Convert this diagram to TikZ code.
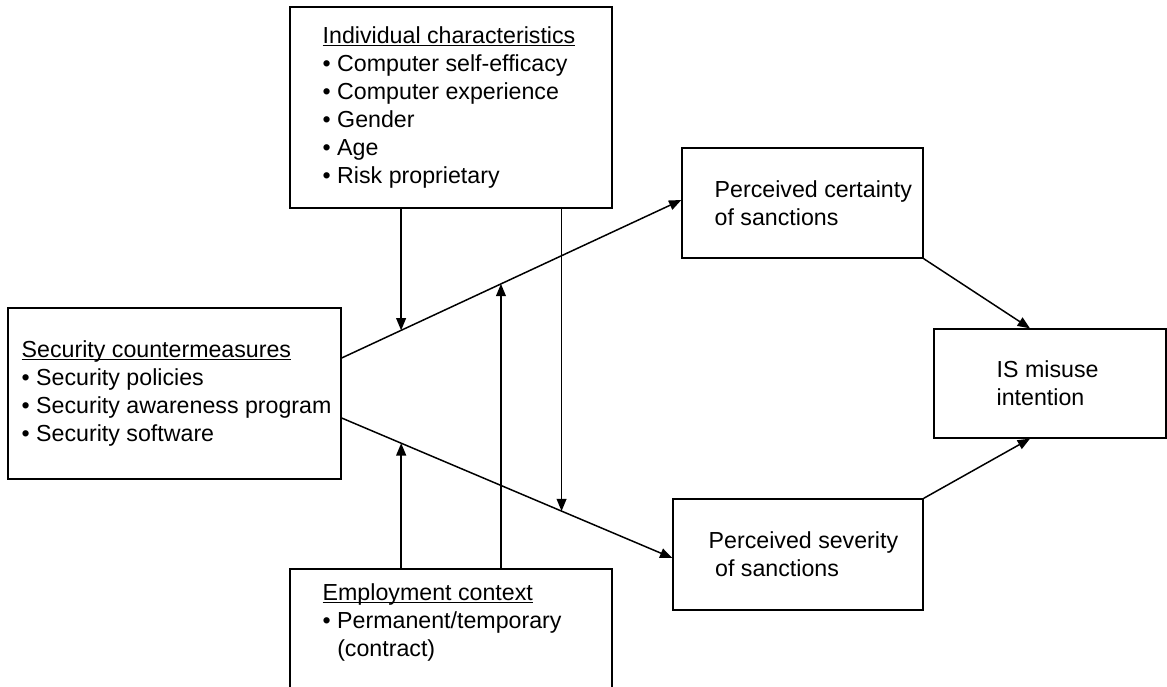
\documentclass[tikz,border=0pt]{standalone}
\usepackage{fontspec}
\setmainfont{Liberation Sans}
\usetikzlibrary{arrows.meta}
\newcommand{\ulhead}[1]{\underline{\raisebox{0pt}[\height][0pt]{#1}}}

\begin{document}
\begin{tikzpicture}[>={Triangle[length=7pt,width=5.6pt]},
  box/.style={draw, line width=0.75pt, inner sep=0pt},
  txt/.style={align=left, inner sep=0pt, font=\fontsize{13.2}{16}\selectfont},
  link/.style={->, line width=0.85pt}]
  \path[use as bounding box, clip] (0,0) rectangle (23.34,-13.74);
  % the six boxes
  \node[box, minimum width=6.44cm, minimum height=4.02cm] (ind) at (9.02,-2.15) {};
  \node[box, minimum width=6.66cm, minimum height=3.42cm] (sc) at (3.49,-7.87) {};
  \node[box, minimum width=4.82cm, minimum height=2.20cm] (cert) at (16.05,-4.06) {};
  \node[box, minimum width=4.64cm, minimum height=2.18cm] (is) at (21.00,-7.67) {};
  \node[box, minimum width=5.00cm, minimum height=2.22cm] (sev) at (15.96,-11.09) {};
  \node[box, minimum width=6.44cm, minimum height=2.82cm] (emp) at (9.02,-12.79) {};
  % their texts
  \node[txt, anchor=west] (indtxt) at ([xshift=0.66cm]ind.west)
    {\ulhead{Individual characteristics}\\ \textbullet\ Computer self-efficacy\\ \textbullet\ Computer experience\\ \textbullet\ Gender\\ \textbullet\ Age\\ \textbullet\ Risk proprietary};
  \node[txt, anchor=west] (sctxt) at ([xshift=0.28cm]sc.west)
    {\ulhead{Security countermeasures}\\ \textbullet\ Security policies\\ \textbullet\ Security awareness program\\ \textbullet\ Security software};
  \node[txt, anchor=west] (certtxt) at ([xshift=0.66cm]cert.west) {Perceived certainty\\ of sanctions};
  \node[txt, anchor=west] (istxt) at ([xshift=1.26cm]is.west) {IS misuse\\ intention};
  \node[txt, anchor=west] (sevtxt) at ([xshift=0.72cm]sev.west) {Perceived severity\\ \hspace*{0.28em}of sanctions};
  \node[txt, anchor=west] (emptxt) at ([xshift=0.66cm,yshift=0.34cm]emp.west)
    {\ulhead{Employment context}\\ \textbullet\ Permanent/temporary\\ \phantom{\textbullet\ }(contract)};
  % main paths
  \draw[link] ([yshift=0.71cm]sc.east) -- ([yshift=0.06cm]cert.west)
    coordinate[pos=0.175] (m1) coordinate[pos=0.469] (m2);
  \draw[link] ([yshift=-0.49cm]sc.east) -- ([yshift=-0.07cm]sev.west)
    coordinate[pos=0.18] (m3) coordinate[pos=0.665] (m4);
  \draw[link] (cert.south east) -- ([xshift=-0.4cm]is.north);
  \draw[link] (sev.north east) -- ([xshift=-0.4cm]is.south);
  % moderating effects
  \draw[link] (ind.south -| m1) -- (m1);
  \draw[link] (ind.south -| m4) -- (m4);
  \draw[link] (emp.north -| m3) -- (m3);
  \draw[link] (emp.north -| m2) -- (m2);
\end{tikzpicture}
\end{document}
